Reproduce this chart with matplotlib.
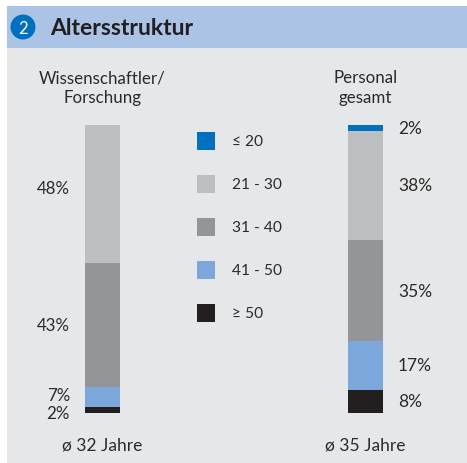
import matplotlib.pyplot as plt
from matplotlib.patches import Rectangle, Circle

# data
groups = ["Wissenschaftler/\nForschung", "Personal\ngesamt"]
averages = ["ø 32 Jahre", "ø 35 Jahre"]
categories = ["≥ 50", "41 - 50", "31 - 40", "21 - 30", "≤ 20"]  # bottom -> top
shares = {
    "Wissenschaftler/\nForschung": [2, 7, 43, 48, 0],
    "Personal\ngesamt": [8, 17, 35, 38, 2],
}
colors = ["#231f20", "#7ba7da", "#939598", "#bcbec0", "#0070bf"]
legend_labels = ["≤ 20", "21 - 30", "31 - 40", "41 - 50", "≥ 50"]
legend_colors = ["#0070bf", "#bcbec0", "#939598", "#7ba7da", "#231f20"]

W, H = 467, 464
plt.rcParams['font.family'] = ['Lato', 'DejaVu Sans']
txt = "#2b2b2b"

fig = plt.figure(figsize=(W / 100, H / 100), dpi=100)

# background axes in pixel coordinates
bg = fig.add_axes([0, 0, 1, 1])
bg.set_xlim(0, W)
bg.set_ylim(H, 0)
bg.axis("off")
bg.add_patch(Rectangle((7, 49), W - 7, H - 49, color="#e6e7e8", lw=0))
bg.add_patch(Rectangle((7, 7), W - 7, 42, color="#abc4e6", lw=0))
bg.add_patch(Circle((23, 28), 12.5, color="#0070bf", lw=0))
bg.text(23, 29, "2", color="white", fontsize=12, ha="center", va="center")
bg.text(50, 28.5, "Altersstruktur", color="#231f20", fontsize=16.5,
        fontweight="bold", ha="left", va="center")

# bar axes: y 0..100 maps to pixel 414..126
bar_top, bar_bot = 126, 414
ax = fig.add_axes([0, (H - bar_bot) / H, 1, (bar_bot - bar_top) / H])
ax.set_xlim(0, W)
ax.set_ylim(0, 100)
ax.axis("off")

xpos = [102.5, 365.5]
bw = 35
label_side = ["left", "right"]
for gi, g in enumerate(groups):
    bottom = 0
    for si, (val, col) in enumerate(zip(shares[g], colors)):
        if val > 0:
            ax.bar(xpos[gi], val, bottom=bottom, width=bw, color=col, lw=0)
            yc = bottom + val / 2
            if label_side[gi] == "left":
                # spread the two thin bottom labels a little
                if si == 0:
                    yc -= 0.9
                elif si == 1:
                    yc += 0.9
                elif si == 3:
                    yc += 2.0
                ax.text(70, yc, f"{val}%", ha="right", va="center",
                        fontsize=12.2, color=txt)
            else:
                ax.text(398, yc, f"{val}%", ha="left", va="center",
                        fontsize=12.5, color=txt)
        bottom += val
    bg.text(xpos[gi], 88, g, ha="center", va="center", fontsize=12.2,
            color=txt, linespacing=1.3)
    bg.text(xpos[gi], 446, averages[gi], ha="center", va="center",
            fontsize=12.5, color=txt)

# legend
for i, (lab, col) in enumerate(zip(legend_labels, legend_colors)):
    y = 142 + i * 43
    bg.add_patch(Rectangle((197, y - 9), 18, 18, color=col, lw=0))
    bg.text(232, y, lab, ha="left", va="center", fontsize=11.2, color=txt)

fig.savefig("out.png", dpi=100)
